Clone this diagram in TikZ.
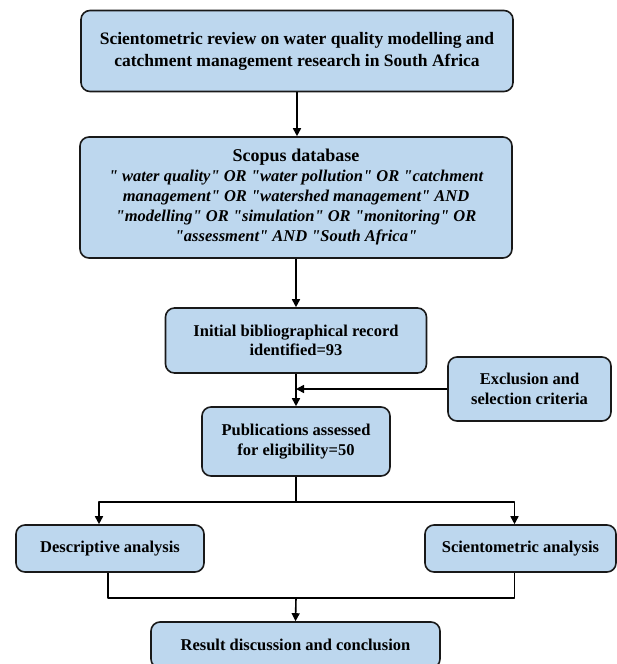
\documentclass[tikz,border=0pt]{standalone}
\usepackage{fontspec}
\setmainfont{Liberation Serif}[Ligatures=TeXOff]
\usetikzlibrary{arrows.meta}
\definecolor{boxblue}{HTML}{BDD7EE}

\begin{document}
\begin{tikzpicture}[x=1pt,y=-1pt,line join=round,>={Triangle[length=8pt,width=8pt]},line width=1.6pt]
        \tikzset{box style/.style={draw=black!90,fill=boxblue,rounded corners=9pt,align=center,inner sep=0pt,font=\fontsize{16.5}{19.5}\selectfont\bfseries}}
        \useasboundingbox (0,0) rectangle (617,664);
        \node[box style,minimum width=432pt,minimum height=81pt,font=\fontsize{17.5}{22}\selectfont\bfseries] (review) at (297,51)
            {Scientometric review on water quality modelling and\\catchment management research in South Africa};
        \node[box style,minimum width=432pt,minimum height=121pt,font=\fontsize{16.5}{20}\selectfont\bfseries] (scopus) at (296,197.5)
            {{\fontsize{18}{20}\selectfont Scopus database}\\\itshape " water quality" OR "water pollution" OR "catchment\\\itshape management" OR "watershed management" AND\\\itshape "modelling" OR "simulation" OR "monitoring" OR\\\itshape "assessment" AND "South Africa"};
        \node[box style,minimum width=261pt,minimum height=65pt] (initial) at (296,340.5)
            {Initial bibliographical record\\identified=93};
        \node[box style,minimum width=163pt,minimum height=64pt] (excl) at (529.5,389)
            {Exclusion and\\selection criteria};
        \node[box style,minimum width=188pt,minimum height=69pt] (pub) at (296,441.5)
            {Publications assessed\\for eligibility=50};
        \node[box style,minimum width=188pt,minimum height=47pt] (descr) at (110,548.5)
            {Descriptive analysis};
        \node[box style,minimum width=191pt,minimum height=47pt] (scient) at (520.5,548.5)
            {Scientometric analysis};
        \node[box style,minimum width=289pt,minimum height=46pt] (result) at (295.5,645)
            {Result discussion and conclusion};
        \coordinate (split) at (296,502);
        \coordinate (join) at (296,598);
        \draw[->] (review.south -| 297,0) -- (297,0 |- scopus.north);
        \draw[->] (scopus.south) -- (initial.north);
        \draw[->] (initial.south) -- (pub.north);
        \draw[->] (excl.west) -- (excl.west -| initial.south);
        \draw (pub.south) -- (split);
        \draw[->] (split) -| ([xshift=-11pt]descr.north);
        \draw[->] (split) -| ([xshift=-6pt]scient.north);
        \draw ([xshift=-2pt]descr.south) |- (join);
        \draw ([xshift=-6pt]scient.south) |- (join);
        \draw[->] (join) -- (result.north);
\end{tikzpicture}
\end{document}
